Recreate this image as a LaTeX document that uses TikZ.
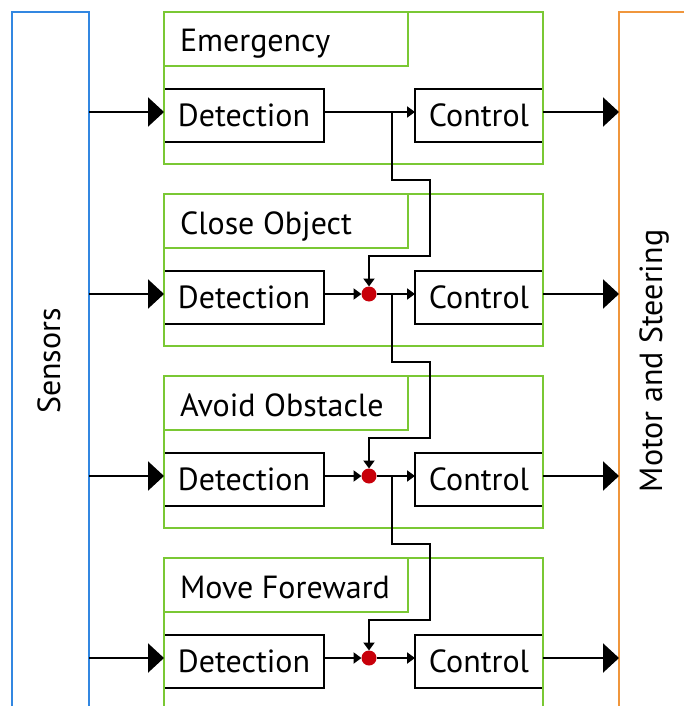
\documentclass[tikz,border=0pt]{standalone}
\usepackage{fontspec}
\setmainfont{PT Sans}
\usetikzlibrary{arrows.meta}
\definecolor{layergreen}{RGB}{122,200,52}
\definecolor{sensorblue}{RGB}{50,135,225}
\definecolor{motororange}{RGB}{240,150,60}
\definecolor{junctionred}{RGB}{200,0,10}
\begin{document}
\begin{tikzpicture}[x=1pt,y=-1pt,
  every node/.style={inner sep=0pt, outer sep=0pt},
  txt/.style={font=\fontsize{32}{38}\selectfont},
  layerbox/.style={draw=layergreen, line width=2.4pt, rectangle, anchor=north west},
  unitbox/.style={draw=black, line width=2.4pt, rectangle, anchor=north west,
                  minimum height=53pt, txt},
  sidebox/.style={line width=2.4pt, rectangle, anchor=north west,
                  minimum width=200pt, minimum height=900pt},
  junction/.style={circle, fill=junctionred, minimum size=15pt},
  wire/.style={line width=2.2pt},
  smallarrow/.style={wire, -{Triangle[length=8pt,width=11pt]}},
  bigarrow/.style={wire, -{Triangle[length=16pt,width=29pt]}}]
\useasboundingbox (0,0) rectangle (684,706);
\clip (0,0) rectangle (684,706);

% input and output bars
\node[sidebox, draw=sensorblue, minimum width=77pt] (sensors) at (12,12) {};
\node[txt, rotate=90, anchor=base] (sensorslabel) at (60,361) {Sensors};
\node[sidebox, draw=motororange] (motor) at (619,12) {};
\node[txt, rotate=90, anchor=base] (motorlabel) at (662,361) {Motor and Steering};

% behaviour layers
\foreach \k/\title in {1/Emergency, 2/Close Object, 3/Avoid Obstacle, 4/Move Foreward} {
  \pgfmathsetmacro\T{12+182*(\k-1)}
  \node[unitbox, minimum width=160pt] (det\k) at (164,\T+77) {Detection};
  \node[unitbox, minimum width=128pt] (ctl\k) at (415,\T+77) {Control};
  \node[layerbox, minimum width=379pt, minimum height=152pt] (layer\k) at (164,\T) {};
  \node[layerbox, minimum width=244pt, minimum height=54pt] (head\k) at (164,\T) {};
  \node[txt, anchor=base west] (title\k) at (180,\T+40) {\title};
  \coordinate (sig\k) at (164,\T+100);
  \coordinate (tap\k) at (392,\T+100);
  \draw[bigarrow] (sensors.east |- sig\k) -- (sig\k);
  \draw[bigarrow] (ctl\k.east |- sig\k) -- (motor.west |- sig\k);
}

% emergency layer passes straight through
\draw[smallarrow] (det1.east |- sig1) -- (ctl1.west |- sig1);

% lower layers merge through a junction
\foreach \k in {2,3,4} {
  \pgfmathsetmacro\T{12+182*(\k-1)}
  \node[junction] (dot\k) at (369,\T+100) {};
  \draw[smallarrow] (det\k.east |- dot\k) -- (dot\k.west);
  \draw[smallarrow] (dot\k.east) -- (ctl\k.west |- dot\k);
}

% suppression links from each layer to the one below
\foreach \k/\n in {1/2, 2/3, 3/4} {
  \pgfmathsetmacro\T{12+182*(\k-1)}
  \pgfmathsetmacro\U{12+182*(\n-1)}
  \draw[smallarrow] (tap\k) -- (392,\T+168) -- (430,\T+168)
     -- (430,\U+62) -- (dot\n.center |- 0,\U+62) -- (dot\n.north);
}
\end{tikzpicture}
\end{document}
